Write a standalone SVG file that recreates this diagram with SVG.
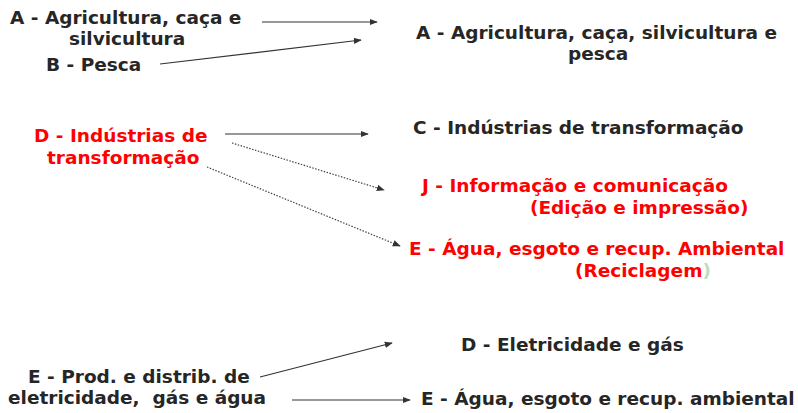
<svg xmlns="http://www.w3.org/2000/svg" width="798" height="413" viewBox="0 0 798 413">
<defs>
<style>
text{font-family:"DejaVu Sans","Verdana",sans-serif;font-weight:bold;font-size:18.5px;fill:#262626;white-space:pre}
.r{fill:#ff0000}
.g{fill:#b8e0b8}
.ln{stroke:#333;stroke-width:1.2;fill:none}
.dt{stroke:#444;stroke-width:1.2;fill:none;stroke-dasharray:1.5 1.5}
</style>
<marker id="ah" viewBox="0 0 10 10" refX="9" refY="5" markerWidth="8" markerHeight="8" markerUnits="userSpaceOnUse" orient="auto"><path d="M0,1 L10,5 L0,9 z" fill="#333"/></marker>
</defs>
<rect width="798" height="413" fill="#fff"/>
<g id="n-agri-src">
<text x="10" y="24">A - Agricultura, caça e</text>
<text x="69" y="45">silvicultura</text>
</g>
<g id="n-pesca-src"><text x="46" y="71">B - Pesca</text></g>
<g id="n-agri-dst">
<text x="416" y="39">A - Agricultura, caça, silvicultura e</text>
<text x="568" y="60">pesca</text>
</g>
<g id="n-ind-src">
<text class="r" x="34" y="142">D - Indústrias de</text>
<text class="r" x="47" y="164">transformação</text>
</g>
<g id="n-ind-dst"><text x="413" y="134">C - Indústrias de transformação</text></g>
<g id="n-info"><text class="r" x="422" y="192">J - Informação e comunicação</text><text class="r" x="530" y="214">(Edição e impressão)</text></g>
<g id="n-agua-red"><text class="r" x="409" y="255">E - Água, esgoto e recup. Ambiental</text><text class="r" x="575" y="277">(Reciclagem<tspan class="g">)</tspan></text></g>
<g id="n-elet-src"><text x="28" y="383">E - Prod. e distrib. de</text><text x="8" y="404">eletricidade,  gás e água</text></g>
<g id="n-elet-dst"><text x="461" y="351">D - Eletricidade e gás</text></g>
<g id="n-agua-dst"><text x="421" y="405">E - Água, esgoto e recup. ambiental</text></g>
<g id="connectors">
<line class="ln" x1="262" y1="22" x2="377" y2="22" marker-end="url(#ah)"/>
<line class="ln" x1="160" y1="64" x2="361" y2="40" marker-end="url(#ah)"/>
<line class="ln" x1="225" y1="134" x2="368" y2="134" marker-end="url(#ah)"/>
<line class="dt" x1="232" y1="143" x2="384" y2="190" marker-end="url(#ah)"/>
<line class="dt" x1="207" y1="167" x2="400" y2="246" marker-end="url(#ah)"/>
<line class="ln" x1="260" y1="377" x2="392" y2="343" marker-end="url(#ah)"/>
<line class="ln" x1="292" y1="400" x2="410" y2="400" marker-end="url(#ah)"/>
</g>
</svg>
